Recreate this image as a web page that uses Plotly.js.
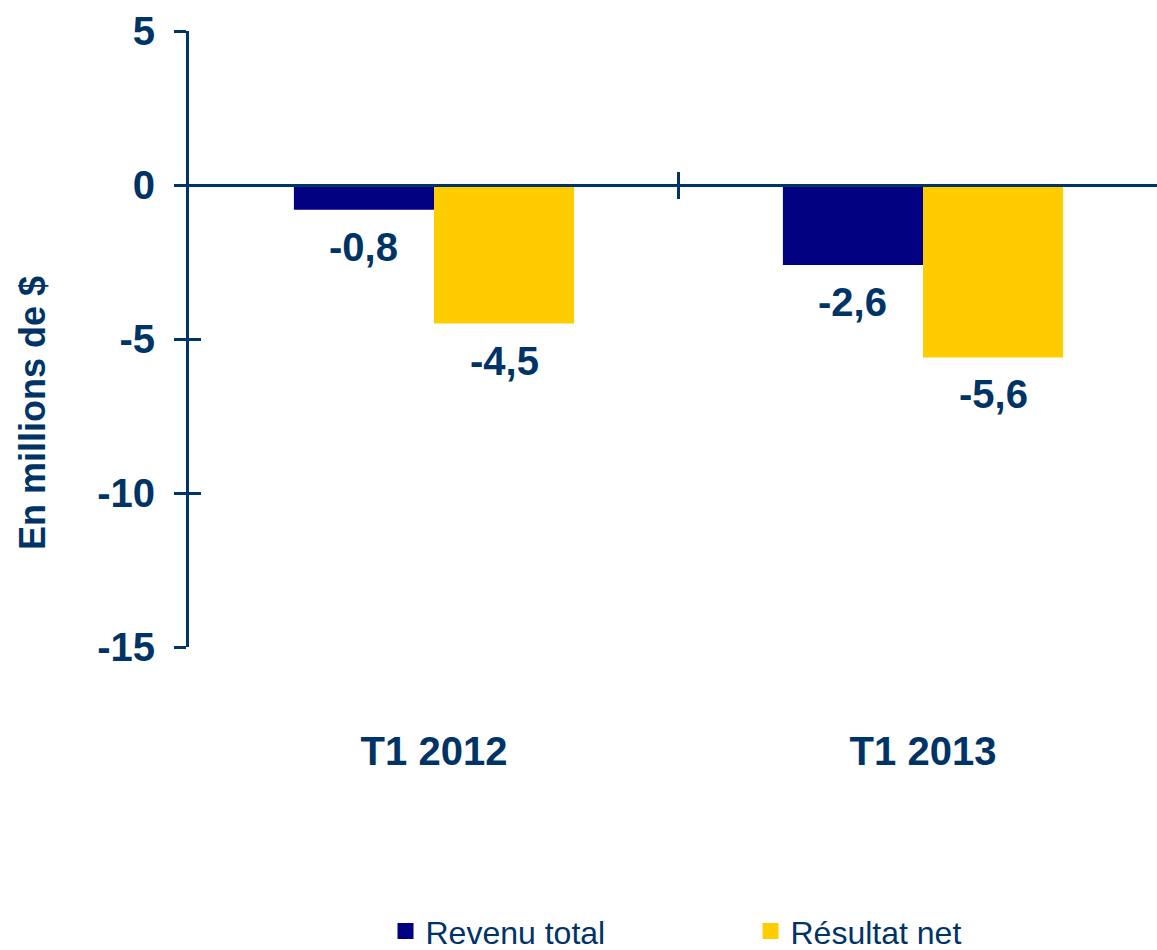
<!DOCTYPE html>
<html>
<head>
<meta charset="utf-8">
<script src="https://cdn.plot.ly/plotly-3.0.1.min.js"></script>
<style>html,body{margin:0;padding:0;background:#fff;}#chart{width:1157px;height:950px;}</style>
</head>
<body>
<div id="chart"></div>
<script>
const categories = ["T1 2012", "T1 2013"];
const revenuTotal = [-0.8, -2.6];
const resultatNet = [-4.5, -5.6];
const seriesNames = ["Revenu total", "Résultat net"];
const yTicks = [5, 0, -5, -10, -15];
const yTickLabels = ["5", "0", "-5", "-10", "-15"];
const yTitle = "En millions de $";

const FONT = "Liberation Sans, Arial, sans-serif";
const TXT = "#003366";
const NAVY = "#000080";
const GOLD = "#FFCC00";
const XR = [-0.501, 1.4785];

const fmt = v => v.toFixed(1).replace(".", ",");

const traces = [
  {type: "bar", name: seriesNames[0], x: categories, y: revenuTotal,
   marker: {color: NAVY}, hoverinfo: "none", showlegend: false},
  {type: "bar", name: seriesNames[1], x: categories, y: resultatNet,
   marker: {color: GOLD}, hoverinfo: "none", showlegend: false},
  // legend entries (square swatches)
  {type: "scatter", mode: "markers", name: seriesNames[0], x: [null], y: [null],
   marker: {symbol: "square", size: 16, color: NAVY}, hoverinfo: "none"},
  {type: "scatter", mode: "markers", name: seriesNames[1], x: [null], y: [null],
   marker: {symbol: "square", size: 16, color: GOLD}, hoverinfo: "none"},
  // empty traces so the overlay axes (zero line, crossing ticks) are drawn
  {type: "scatter", x: [], y: [], xaxis: "x2", yaxis: "y", showlegend: false, hoverinfo: "none"},
  {type: "scatter", x: [], y: [], xaxis: "x3", yaxis: "y", showlegend: false, hoverinfo: "none"},
  {type: "scatter", x: [], y: [], xaxis: "x", yaxis: "y2", showlegend: false, hoverinfo: "none"}
];

const annotations = [];
[revenuTotal, resultatNet].forEach((vals, s) => {
  vals.forEach((v, i) => {
    annotations.push({
      x: i + (s === 0 ? -0.1432 : 0.1432), xref: "x", y: v, yref: "y",
      text: "<b>" + fmt(v) + "</b>", showarrow: false,
      xanchor: "center", yanchor: "middle", yshift: -37,
      font: {family: FONT, size: 40, color: TXT}
    });
  });
});
annotations.push({
  x: -0.161, xref: "paper", y: 0.38, yref: "paper",
  text: "<b>" + yTitle + "</b>", textangle: -90, showarrow: false,
  xanchor: "center", yanchor: "middle",
  font: {family: FONT, size: 36, color: TXT}
});

const yCommon = {
  range: [-15, 5], tickvals: yTicks, ticktext: yTickLabels, showgrid: false, zeroline: false,
  linecolor: TXT, linewidth: 3, showline: true,
  tickcolor: TXT, tickwidth: 3, ticklen: 12
};
const xLineCommon = {
  range: XR, showgrid: false, zeroline: false, showline: true,
  linecolor: TXT, linewidth: 3, tickvals: [0.5], showticklabels: false,
  tickcolor: TXT, tickwidth: 3, ticklen: 12,
  overlaying: "x", anchor: "free", position: 0.75
};

const layout = {
  width: 1157, height: 950,
  margin: {l: 189, r: 0, t: 31, b: 303, autoexpand: false},
  paper_bgcolor: "#fff", plot_bgcolor: "#fff",
  barmode: "group", bargap: 0.427, bargroupgap: 0,
  font: {family: FONT, color: TXT},
  showlegend: true,
  legend: {orientation: "h", x: 0.203, xanchor: "left", y: -0.4615, yanchor: "middle",
           font: {family: FONT, size: 32, color: TXT}, entrywidth: 320, entrywidthmode: "pixels",
           bgcolor: "rgba(0,0,0,0)"},
  xaxis: {type: "category", range: XR, showgrid: false, zeroline: false, showline: false,
          ticks: "", tickfont: {family: FONT, size: 40, color: TXT, weight: "bold"},
          ticklabelstandoff: 77},
  xaxis2: Object.assign({ticks: "outside"}, xLineCommon),
  xaxis3: Object.assign({ticks: "inside"}, xLineCommon),
  yaxis: Object.assign({ticks: "outside", ticklabelstandoff: 11,
          tickfont: {family: FONT, size: 40, color: TXT, weight: "bold"}}, yCommon),
  yaxis2: Object.assign({ticks: "inside", overlaying: "y", showticklabels: false}, yCommon),
  annotations: annotations
};

Plotly.newPlot("chart", traces, layout, {staticPlot: true, displayModeBar: false});
</script>
</body>
</html>
